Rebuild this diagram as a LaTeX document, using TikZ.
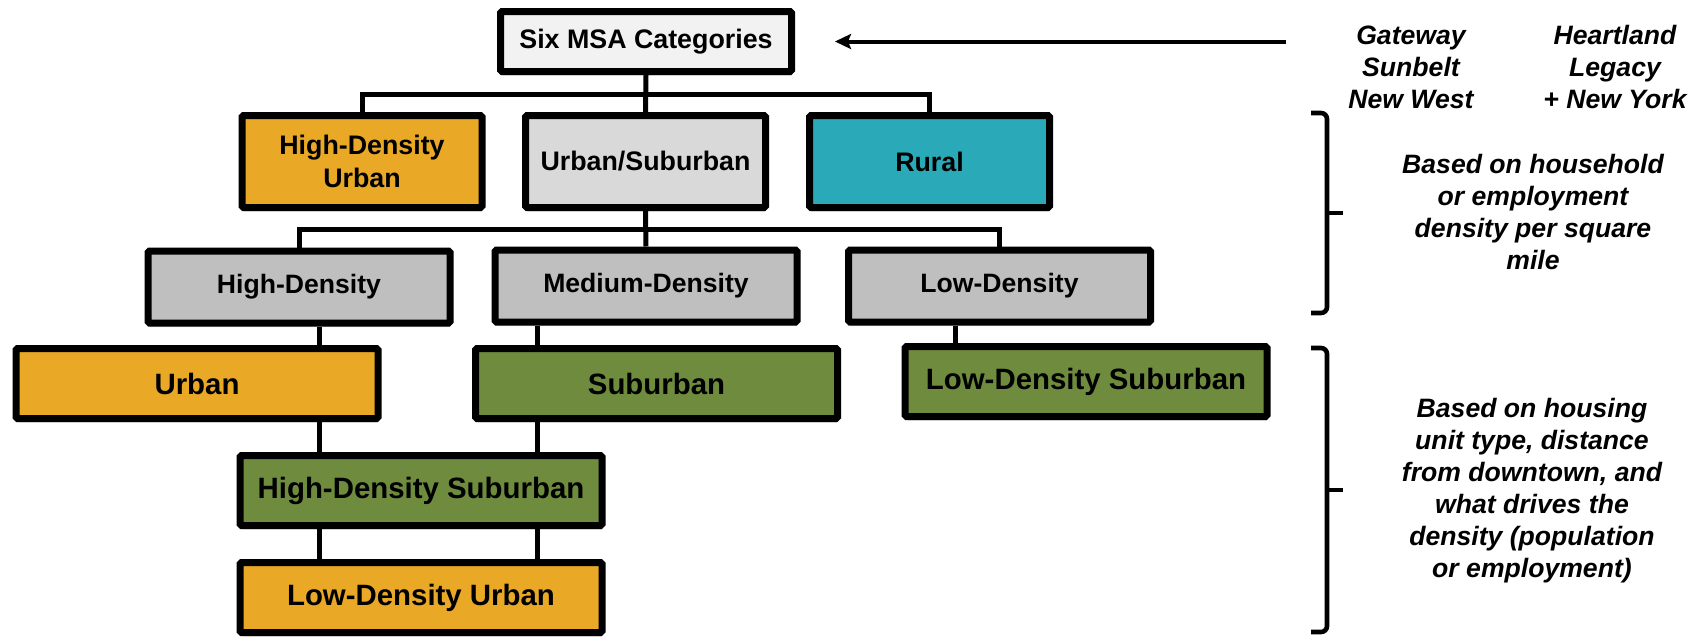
\documentclass[tikz,border=0pt]{standalone}
\usepackage{fontspec}
\setmainfont{Liberation Sans}
\usetikzlibrary{shadows,arrows.meta}
\definecolor{cOrange}{HTML}{E9A825}
\definecolor{cTeal}{HTML}{2AA9B8}
\definecolor{cGreen}{HTML}{6E8B3E}
\definecolor{gTop}{HTML}{F2F2F2}
\definecolor{gLight}{HTML}{D9D9D9}
\definecolor{gMid}{HTML}{BFBFBF}
\begin{document}
\begin{tikzpicture}[x=0.5pt,y=0.5pt,
  box/.style={draw=black, line width=3.5pt, inner sep=0pt, align=center, rounded corners=0.8pt,
    drop shadow={shadow xshift=0.6pt, shadow yshift=-2pt, opacity=0.22}},
  sixbox/.style={box, fill=gTop, minimum width=145.5pt, minimum height=30pt,
    font=\fontsize{13.4}{16.2}\selectfont\bfseries},
  midbox/.style={box, minimum width=120pt, minimum height=46pt,
    font=\fontsize{13.4}{16.2}\selectfont\bfseries},
  denbox/.style={box, fill=gMid, minimum width=151pt, minimum height=36pt,
    font=\fontsize{13.3}{16.2}\selectfont\bfseries},
  lowbox/.style={box, minimum width=181pt, minimum height=35pt,
    font=\fontsize{14.7}{17}\selectfont\bfseries},
  conn/.style={draw=black, line width=2.5pt},
  arr/.style={draw=black, line width=2pt, -{Stealth[length=8pt,width=7.5pt,inset=1.5pt]}},
  bracestyle/.style={draw=black, line width=2.3pt, rounded corners=3pt},
  bracetip/.style={draw=black, line width=2.3pt},
  side/.style={inner sep=0pt, align=center,
    font=\fontsize{13.3}{16}\selectfont\bfseries\itshape}
]
\useasboundingbox (0,0) rectangle (1705,-637);

% boxes
\node[sixbox] (six) at (646,-41.5) {Six MSA Categories};
\node[midbox, fill=cOrange] (hdu) at (362,-161.5) {High-Density\\Urban};
\node[midbox, fill=gLight] (us) at (645.5,-161.5) {Urban/Suburban};
\node[midbox, fill=cTeal] (rural) at (929.5,-161.5) {Rural};
\node[denbox] (hd) at (299,-287) {High-Density};
\node[denbox] (md) at (646,-286) {Medium-Density};
\node[denbox] (ld) at (999.5,-286) {Low-Density};
\node[lowbox, fill=cOrange] (urban) at (197,-383.5) {Urban};
\node[lowbox, fill=cGreen] (sub) at (656.5,-383.5) {Suburban};
\node[lowbox, fill=cGreen] (lds) at (1086,-381.5) {Low-Density Suburban};
\node[lowbox, fill=cGreen] (hds) at (421,-490.5) {High-Density Suburban};
\node[lowbox, fill=cOrange] (ldu) at (421,-597.5) {Low-Density Urban};

% connectors
\draw[conn] (six.south) -- (us.north);
\draw[conn] (hdu.north) -- ++(0,18) -| (rural.north);
\draw[conn] (us.south) -- (md.north);
\draw[conn] (hd.north) -- ++(0,18.5) -| (ld.north);
\coordinate (cA) at (319,0);
\coordinate (cB) at (537,0);
\coordinate (cC) at (955,0);
\draw[conn] (hd.south -| cA) -- (urban.north -| cA);
\draw[conn] (md.south -| cB) -- (sub.north -| cB);
\draw[conn] (ld.south -| cC) -- (lds.north -| cC);
\draw[conn] (urban.south -| cA) -- (hds.north -| cA);
\draw[conn] (sub.south -| cB) -- (hds.north -| cB);
\draw[conn] (hds.south -| cA) -- (ldu.north -| cA);
\draw[conn] (hds.south -| cB) -- (ldu.north -| cB);

% arrow from the right-hand labels
\coordinate (arrStart) at (1286,-41.5);
\draw[arr] (arrStart) -- ([xshift=20pt]six.east);

% side texts
\node[side] (gw) at (1411,-67) {Gateway\\Sunbelt\\New West};
\node[side] (hl) at (1615,-67) {Heartland\\Legacy\\+ New York};
\node[side] (t1) at (1533,-212) {Based on household\\or employment\\density per square\\mile};
\node[side] (t2) at (1532,-491) {Based on housing\\unit type, distance\\from downtown, and\\what drives the\\density (population\\or employment)};

% braces
\draw[bracestyle] (1311,-113) -- (1327,-113) -- (1327,-313) -- (1311,-313);
\draw[bracetip] (1327,-213) -- (1343,-213);
\draw[bracestyle] (1311,-348) -- (1327,-348) -- (1327,-632) -- (1311,-632);
\draw[bracetip] (1327,-490) -- (1343,-490);
\end{tikzpicture}
\end{document}
